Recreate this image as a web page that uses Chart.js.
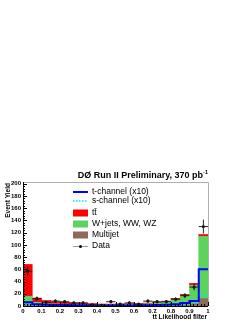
<!DOCTYPE html>
<html>
<head>
<meta charset="utf-8">
<script src="https://cdn.jsdelivr.net/npm/chart.js@4.4.1/dist/chart.umd.min.js"></script>
<style>
  html, body { margin: 0; padding: 0; background: #fff; }
  canvas { display: block; }
</style>
</head>
<body>
<canvas id="plot" width="249" height="323"></canvas>
<script>
// bin edges of the tt Likelihood filter histogram
const binEdges = [0, 0.05, 0.1, 0.15, 0.2, 0.25, 0.3, 0.35, 0.4, 0.45, 0.5,
                  0.55, 0.6, 0.65, 0.7, 0.75, 0.8, 0.85, 0.9, 0.95, 1.0];

// stacked backgrounds (per bin)
const multijet = [3, 1.5, 1, 1, 0.8, 0.7, 0.6, 0.5, 0.5, 0.5, 0.5, 0.6, 0.6, 0.8, 0.8, 1, 1.5, 2, 4, 12];
const wjets    = [13, 4.5, 3, 2.5, 2.2, 2, 2, 1.5, 1.2, 1.3, 1.5, 2, 2.3, 3, 4.2, 5.8, 9.5, 15, 30, 102];
const ttbar    = [52, 7, 5, 3.5, 3, 2.5, 2.2, 2, 1.5, 1.3, 1.2, 1.2, 1.1, 1, 1, 1.2, 1.5, 2, 3, 3];

// signal (x10), drawn as outlines
const tchannel = [6, 3, 2, 1.8, 1.5, 1.3, 1.2, 1, 1, 1, 1, 1, 1.2, 1.3, 1.5, 2, 3, 5, 8, 60];
const schannel = [1.5, 1, 0.8, 0.6, 0.5, 0.5, 0.5, 0.5, 0.5, 0.5, 0.5, 0.5, 0.6, 0.6, 0.8, 1, 1.5, 2.5, 5, 18];

// observed data
const dataCounts = [57, 12, 6, 8, 7, 5, 5, 2, 1, 7, 3, 5, 3, 8, 7, 7, 11, 17, 31, 130];

const xTicks = [0, 0.1, 0.2, 0.3, 0.4, 0.5, 0.6, 0.7, 0.8, 0.9, 1];
const yTicks = [0, 20, 40, 60, 80, 100, 120, 140, 160, 180, 200];

const FONT = '"Liberation Sans", Arial, sans-serif';

const centers = binEdges.slice(0, -1).map((e, i) => (e + binEdges[i + 1]) / 2);
const asBars = arr => arr.map((v, i) => ({ x: centers[i], y: v }));
const asSteps = arr => arr.map((v, i) => ({ x: binEdges[i], y: v })).concat([{ x: 1, y: arr[arr.length - 1] }]);

const legendItems = [
  { label: 't-channel (x10)', kind: 'line', color: '#0000ff', width: 2 },
  { label: 's-channel (x10)', kind: 'dash', color: '#00e5ff', width: 1.5 },
  { label: 'tt\u0304', kind: 'box', color: '#ff0000' },
  { label: 'W+jets, WW, WZ', kind: 'box', color: '#5ad45a' },
  { label: 'Multijet', kind: 'box', color: '#8c6b5c' },
  { label: 'Data', kind: 'data', color: '#000' }
];

const decorations = {
  id: 'decorations',
  afterDatasetDraw(chart, args) {
    if (args.index !== 0) return;
    const ctx = chart.ctx, xs = chart.scales.x, ys = chart.scales.y;
    ctx.save();
    ctx.strokeStyle = '#222';
    ctx.lineWidth = 1;
    dataCounts.forEach((n, i) => {
      const px = xs.getPixelForValue(centers[i]);
      const py = ys.getPixelForValue(n);
      const e = Math.sqrt(n);
      ctx.beginPath();
      ctx.moveTo(xs.getPixelForValue(binEdges[i]), py);
      ctx.lineTo(xs.getPixelForValue(binEdges[i + 1]), py);
      ctx.moveTo(px, ys.getPixelForValue(Math.max(n - e, 0)));
      ctx.lineTo(px, ys.getPixelForValue(n + e));
      ctx.stroke();
    });
    ctx.restore();
  },
  afterDraw(chart) {
    const ctx = chart.ctx, area = chart.chartArea;
    const xs = chart.scales.x, ys = chart.scales.y;
    ctx.save();

    // frame
    ctx.strokeStyle = '#b0b0b0';
    ctx.lineWidth = 1;
    ctx.beginPath();
    ctx.moveTo(area.left, area.top + 0.5);
    ctx.lineTo(area.right + 0.5, area.top + 0.5);
    ctx.lineTo(area.right + 0.5, area.bottom);
    ctx.stroke();
    ctx.strokeStyle = '#000';
    ctx.beginPath();
    ctx.moveTo(area.left + 0.5, area.top);
    ctx.lineTo(area.left + 0.5, area.bottom + 0.5);
    ctx.lineTo(area.right, area.bottom + 0.5);
    ctx.stroke();

    // inward tick marks
    ctx.beginPath();
    for (let v = 0; v <= 200; v += 4) {
      const y = Math.round(ys.getPixelForValue(v)) + 0.5;
      const len = v % 20 === 0 ? 4 : 2;
      ctx.moveTo(area.left, y);
      ctx.lineTo(area.left + len, y);
    }
    for (let k = 0; k <= 50; k++) {
      const x = Math.round(xs.getPixelForValue(k / 50)) + 0.5;
      const len = k % 5 === 0 ? 4 : 2;
      ctx.moveTo(x, area.bottom);
      ctx.lineTo(x, area.bottom - len);
    }
    ctx.stroke();

    // title
    ctx.fillStyle = '#000';
    ctx.textBaseline = 'alphabetic';
    ctx.textAlign = 'right';
    ctx.font = 'bold 5.5px ' + FONT;
    ctx.fillText('-1', 208, 174);
    const supW = ctx.measureText('-1').width;
    ctx.font = 'bold 9px ' + FONT;
    ctx.fillText('D\u00d8 Run II Preliminary, 370 pb', 208 - supW, 178);

    // axis titles
    ctx.font = 'bold 6.5px ' + FONT;
    ctx.textAlign = 'right';
    ctx.fillText('t\u0074\u0304 Likelihood filter', 207, 319);
    ctx.save();
    ctx.translate(10, 183);
    ctx.rotate(-Math.PI / 2);
    ctx.textAlign = 'right';
    ctx.fillText('Event Yield', 0, 0);
    ctx.restore();

    // legend
    ctx.font = '8.5px ' + FONT;
    ctx.textAlign = 'left';
    ctx.textBaseline = 'middle';
    const rowY = [192, 201, 213, 224, 235, 246];
    legendItems.forEach((it, i) => {
      const y = rowY[i];
      const x0 = 73, x1 = 88;
      if (it.kind === 'line' || it.kind === 'dash') {
        ctx.strokeStyle = it.color;
        ctx.lineWidth = it.width;
        ctx.setLineDash(it.kind === 'dash' ? [1.5, 1.5] : []);
        ctx.beginPath();
        ctx.moveTo(x0, y);
        ctx.lineTo(x1, y);
        ctx.stroke();
        ctx.setLineDash([]);
      } else if (it.kind === 'box') {
        ctx.fillStyle = it.color;
        ctx.fillRect(x0, y - 3.5, x1 - x0, 7);
      } else {
        ctx.strokeStyle = '#999';
        ctx.lineWidth = 1;
        ctx.beginPath();
        ctx.moveTo(x0, y + 0.5);
        ctx.lineTo(x1, y + 0.5);
        ctx.stroke();
        ctx.fillStyle = '#000';
        ctx.beginPath();
        ctx.arc((x0 + x1) / 2, y + 0.5, 1.5, 0, 2 * Math.PI);
        ctx.fill();
      }
      ctx.fillStyle = '#000';
      ctx.fillText(it.label, 92, y);
    });
    ctx.restore();
  }
};

new Chart(document.getElementById('plot'), {
  type: 'bar',
  data: {
    datasets: [
      {
        type: 'line', label: 'Data', data: asBars(dataCounts), stack: 'data',
        showLine: false, pointRadius: 1.6, pointBackgroundColor: '#000',
        pointBorderWidth: 0, borderColor: '#000'
      },
      {
        type: 'line', label: 't-channel (x10)', data: asSteps(tchannel), stack: 'tch',
        stepped: true, borderColor: '#0000ff', borderWidth: 2, pointRadius: 0, fill: false
      },
      {
        type: 'line', label: 's-channel (x10)', data: asSteps(schannel), stack: 'sch',
        stepped: true, borderColor: '#00e5ff', borderWidth: 1.5, borderDash: [1.5, 1.5],
        pointRadius: 0, fill: false
      },
      { label: 'Multijet', data: asBars(multijet), stack: 'bg', backgroundColor: '#8c6b5c' },
      { label: 'W+jets, WW, WZ', data: asBars(wjets), stack: 'bg', backgroundColor: '#5ad45a' },
      { label: 'tt', data: asBars(ttbar), stack: 'bg', backgroundColor: '#ff0000' }
    ]
  },
  options: {
    responsive: false,
    animation: false,
    events: [],
    barPercentage: 1,
    categoryPercentage: 1,
    layout: { padding: { top: 182, right: 41, left: 0, bottom: 0 } },
    plugins: { legend: { display: false }, tooltip: { enabled: false }, title: { display: false } },
    scales: {
      x: {
        type: 'linear', min: 0, max: 1, offset: false,
        grid: { display: false, drawTicks: false, offset: false },
        border: { display: false },
        afterBuildTicks: s => { s.ticks = xTicks.map(v => ({ value: v })); },
        afterFit: s => { s.height = 17; },
        ticks: {
          padding: 2, maxRotation: 0, autoSkip: false, color: '#000',
          font: { family: FONT, size: 6, weight: 'bold' },
          callback: v => String(Math.round(v * 10) / 10)
        }
      },
      y: {
        stacked: true, min: 0, max: 203,
        grid: { display: false, drawTicks: false },
        border: { display: false },
        afterBuildTicks: s => { s.ticks = yTicks.map(v => ({ value: v })); },
        afterFit: s => { s.width = 23; },
        ticks: {
          padding: 2, autoSkip: false, color: '#000',
          font: { family: FONT, size: 6, weight: 'bold' }
        }
      }
    }
  },
  plugins: [decorations]
});
</script>
</body>
</html>
